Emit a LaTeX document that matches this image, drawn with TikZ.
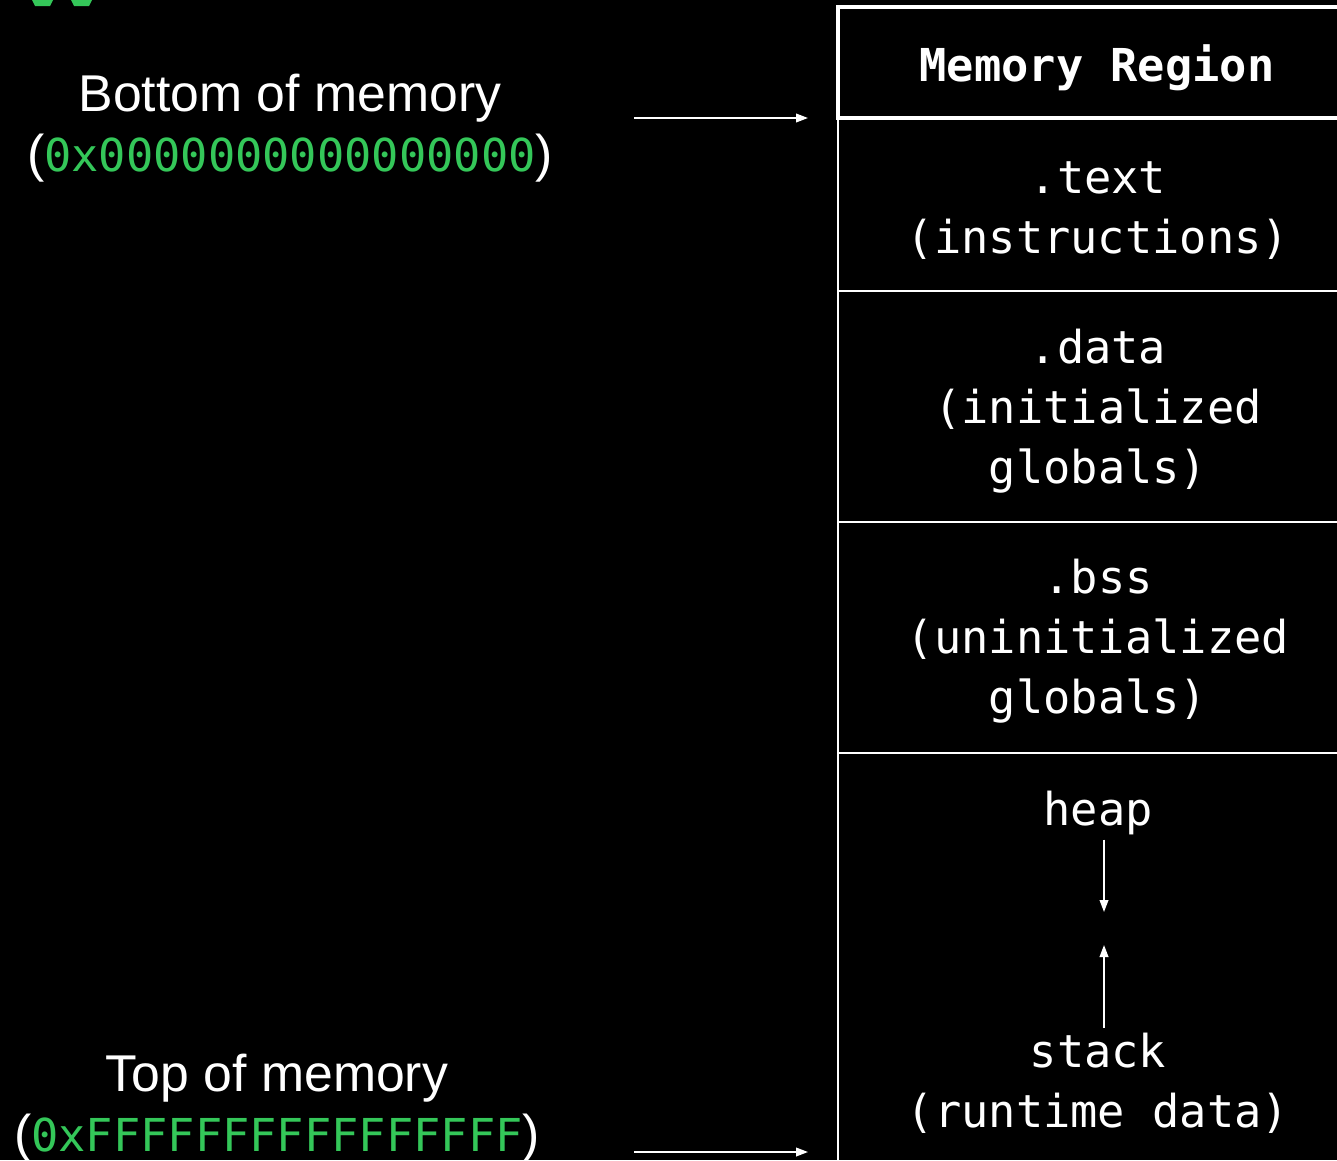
\documentclass[tikz,border=0pt]{standalone}
\usepackage{fontspec}
\setmainfont{Liberation Sans}
\newfontfamily\codefont{DejaVu Sans Mono}
\usetikzlibrary{arrows.meta}
\definecolor{mgreen}{RGB}{52,199,89}
\newcommand{\addr}[1]{\textcolor{mgreen}{\codefont\fontsize{34}{45}\selectfont #1}}
\tikzset{
  seg/.style = {font = \codefont\fontsize{34}{45}\selectfont, text = white, align = center},
  lbl/.style = {font = \fontsize{38.8}{45}\selectfont, text = white, align = center},
  ptr/.style = {draw = white, line width = 1.3pt, -{Triangle[length = 9pt, width = 6.5pt]}},
  rule/.style = {draw = white, line width = 1.5pt}
}

\begin{document}
\begin{tikzpicture}[x = 0.75pt, y = -0.75pt]
  \fill [black] (0, 0) rectangle (1337, 1160);
  \useasboundingbox (0, 0) rectangle (1337, 1160);

  % cut-off title at the top
  \fill [mgreen] (32, 0) -- (53, 0) -- (50, 6) -- (35, 6) -- cycle;
  \fill [mgreen] (71, 0) -- (92, 0) -- (89, 6) -- (74, 6) -- cycle;

  % memory column
  \draw [rule] (838, 118) -- (838, 1170);
  \foreach \y in {291, 522, 753} {
    \draw [rule] (838, \y) -- (1345, \y);
  }
  \draw [white, line width = 3pt] (1345, 7) -- (838, 7) -- (838, 118) -- (1345, 118);

  \node (hdr) [seg, font = \codefont\bfseries\fontsize{34}{45}\selectfont] at (1097, 68) {Memory Region};
  \node (text) [seg] at (1098, 211) {.text\\(instructions)};
  \node (data) [seg] at (1098, 411) {.data\\(initialized\\globals)};
  \node (bss) [seg] at (1098, 641) {.bss\\(uninitialized\\globals)};
  \node (heap) [seg] at (1098, 813) {heap};
  \node (stack) [seg] at (1098, 1083) {stack\\(runtime data)};

  \coordinate (heapend) at (1104, 912);
  \coordinate (stackend) at (1104, 945);
  \draw [ptr] (heap.south -| heapend) -- (heapend);
  \draw [ptr] (stack.north -| stackend) -- (stackend);

  % address labels
  \node (bot) [lbl] at (290, 128) {Bottom of memory\\(\addr{0x0000000000000000})};
  \node (topm) [lbl] at (277, 1108) {Top of memory\\(\addr{0xFFFFFFFFFFFFFFFF})};

  \coordinate (botfrom) at (634, 118);
  \coordinate (botto) at (808, 118);
  \coordinate (topfrom) at (634, 1152);
  \coordinate (topto) at (808, 1152);
  \draw [ptr] (botfrom) -- (botto);
  \draw [ptr] (topfrom) -- (topto);
\end{tikzpicture}
\end{document}
